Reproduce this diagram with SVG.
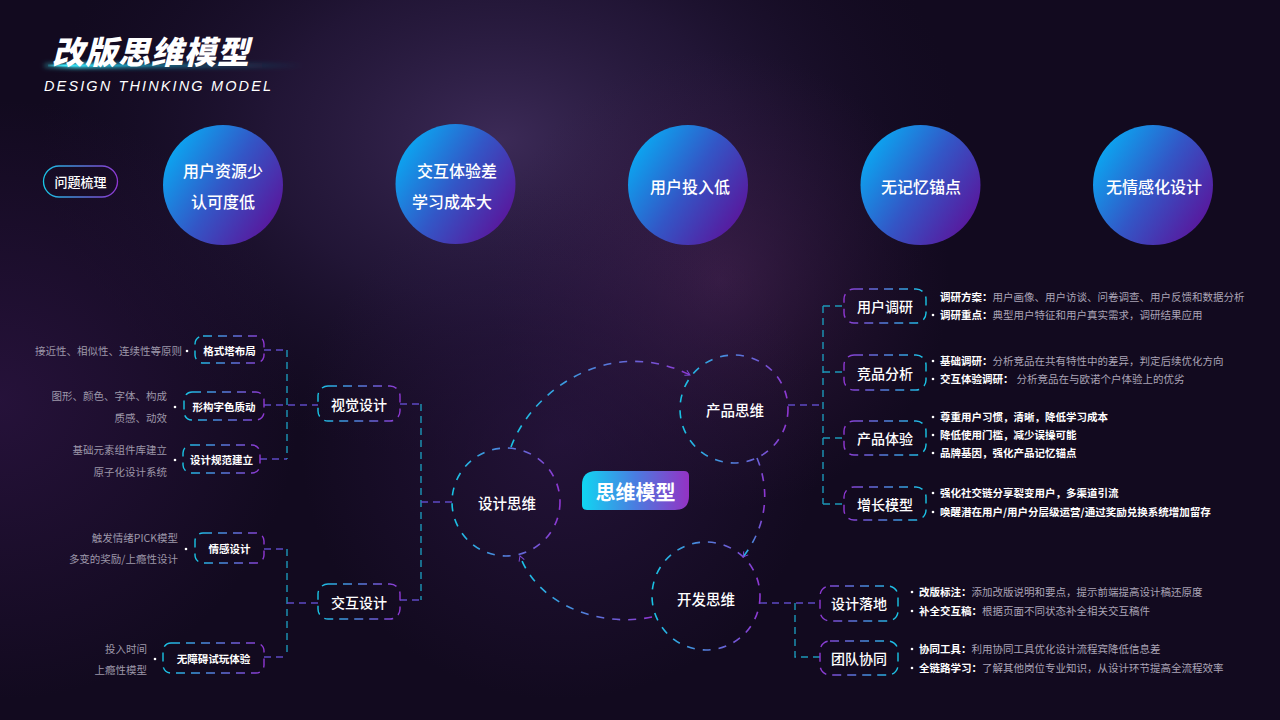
<svg xmlns="http://www.w3.org/2000/svg" width="1280" height="720" viewBox="0 0 1280 720">
<defs>
<radialGradient id="bg1" cx="500" cy="140" r="460" gradientUnits="userSpaceOnUse" gradientTransform="translate(500 140) scale(1 0.7) translate(-500 -140)">
<stop offset="0" stop-color="#3e2c5a" stop-opacity="0.95"/>
<stop offset="0.5" stop-color="#2c1d45" stop-opacity="0.6"/>
<stop offset="1" stop-color="#1a0f2c" stop-opacity="0"/>
</radialGradient>
<radialGradient id="bg2" cx="720" cy="280" r="230" gradientUnits="userSpaceOnUse">
<stop offset="0" stop-color="#4d2658" stop-opacity="0.55"/>
<stop offset="1" stop-color="#3a1a48" stop-opacity="0"/>
</radialGradient>
<radialGradient id="bg3" cx="0" cy="400" r="300" gradientUnits="userSpaceOnUse">
<stop offset="0" stop-color="#2e1545" stop-opacity="0.7"/>
<stop offset="1" stop-color="#2e1545" stop-opacity="0"/>
</radialGradient>
<radialGradient id="bg4" cx="560" cy="440" r="260" gradientUnits="userSpaceOnUse">
<stop offset="0" stop-color="#2e1848" stop-opacity="0.6"/>
<stop offset="1" stop-color="#2e1848" stop-opacity="0"/>
</radialGradient>
<linearGradient id="gCirc" x1="0.05" y1="0.2" x2="0.95" y2="0.8">
<stop offset="0" stop-color="#0aa8f2"/>
<stop offset="0.5" stop-color="#3356c6"/>
<stop offset="1" stop-color="#5a169c"/>
</linearGradient>
<linearGradient id="gS" x1="0" y1="0" x2="1" y2="0">
<stop offset="0" stop-color="#18c4e4"/>
<stop offset="1" stop-color="#8e36d2"/>
</linearGradient>
<linearGradient id="gSR" x1="0" y1="0" x2="1" y2="0">
<stop offset="0" stop-color="#8e36d2"/>
<stop offset="1" stop-color="#18c4e4"/>
</linearGradient>
<linearGradient id="gPill" x1="0" y1="0" x2="1" y2="0">
<stop offset="0" stop-color="#10d6f2"/>
<stop offset="0.5" stop-color="#4a7ce0"/>
<stop offset="1" stop-color="#9432c4"/>
</linearGradient>
<linearGradient id="gGlow" x1="0" y1="0" x2="1" y2="0">
<stop offset="0" stop-color="#3ff0ff" stop-opacity="0.2"/>
<stop offset="0.12" stop-color="#3ff0ff" stop-opacity="1"/>
<stop offset="0.4" stop-color="#22b8d8" stop-opacity="0.6"/>
<stop offset="1" stop-color="#1a8aa8" stop-opacity="0"/>
</linearGradient>
<filter id="blur" x="-20%" y="-300%" width="140%" height="700%"><feGaussianBlur stdDeviation="2.2"/></filter>
<filter id="sh" x="-30%" y="-30%" width="160%" height="160%"><feGaussianBlur stdDeviation="4"/></filter>
<marker id="chev" viewBox="0 0 10 10" refX="8" refY="5" markerWidth="7" markerHeight="7" orient="auto" markerUnits="userSpaceOnUse">
<path d="M1,1 L8,5 L1,9" fill="none" stroke="#7e4ad8" stroke-width="1.4"/>
</marker>
<style>
.t{font-family:"Noto Sans CJK SC","Noto Sans",sans-serif;fill:#fff}
.c{text-anchor:middle;dominant-baseline:central}
.big{font-size:16px;font-weight:500}
.nd{font-size:14px;font-weight:500}
.sm{font-size:10.5px;font-weight:700}
.gy{font-family:"Noto Sans CJK SC","Noto Sans",sans-serif;font-size:10.5px;fill:#9d97a9;text-anchor:end}
.rt{font-family:"Noto Sans CJK SC","Noto Sans",sans-serif;font-size:10.5px;fill:#aaa4b6}
.lb{font-weight:700;fill:#fff}
.box{fill:none;stroke:url(#gS);stroke-width:1.4;stroke-dasharray:9 6}
.boxr{fill:none;stroke:url(#gSR);stroke-width:1.4;stroke-dasharray:9 6}
.ring{fill:none;stroke:url(#gS);stroke-width:1.6;stroke-dasharray:8 8}
.cv{fill:none;stroke:#1c98b8;stroke-width:1.4;stroke-dasharray:7 5}
.ch{fill:none;stroke:#5d4ac4;stroke-width:1.4;stroke-dasharray:7 5}
.arc{fill:none;stroke:url(#gS);stroke-width:1.6;stroke-dasharray:8 8}
.dot{fill:#fff}
.circ{fill:url(#gCirc)}
</style>
</defs>

<g id="background">
<rect width="1280" height="720" fill="#120a1f"/>
<rect width="1280" height="720" fill="url(#bg1)"/>
<rect width="1280" height="720" fill="url(#bg2)"/>
<rect width="1280" height="720" fill="url(#bg3)"/>
<rect width="1280" height="720" fill="url(#bg4)"/>
</g>

<g id="title">
<rect x="44" y="63" width="260" height="5" fill="url(#gGlow)" filter="url(#blur)"/>
<rect x="48" y="64.5" width="150" height="2" fill="url(#gGlow)"/>
<text class="t" x="52" y="64" font-size="32" font-weight="900" transform="skewX(-14) translate(16 0)" letter-spacing="1">改版思维模型</text>
<text x="44" y="91" font-family="Liberation Sans, Arial, sans-serif" font-size="14.5" font-style="italic" fill="#fff" textLength="227" lengthAdjust="spacing">DESIGN THINKING MODEL</text>
</g>

<g id="n-issues">
<rect x="43.5" y="166" width="74" height="31" rx="15.5" fill="none" stroke="url(#gS)" stroke-width="1.3"/>
<text class="t c" x="80.5" y="181.5" font-size="13" font-weight="500">问题梳理</text>
</g>

<g id="n-p1">
<circle cx="223" cy="185" r="60" class="circ"/>
<text class="t c big" x="223" y="170">用户资源少</text>
<text class="t c big" x="223" y="201">认可度低</text>
</g>
<g id="n-p2">
<circle cx="455.5" cy="184" r="60" class="circ"/>
<text class="t c big" x="457" y="170">交互体验差</text>
<text class="t c big" x="452" y="201">学习成本大</text>
</g>
<g id="n-p3">
<circle cx="688" cy="185" r="60" class="circ"/>
<text class="t c big" x="690" y="186">用户投入低</text>
</g>
<g id="n-p4">
<circle cx="920.5" cy="185" r="60" class="circ"/>
<text class="t c big" x="921" y="186">无记忆锚点</text>
</g>
<g id="n-p5">
<circle cx="1153" cy="185" r="60" class="circ"/>
<text class="t c big" x="1154" y="186">无情感化设计</text>
</g>

<g id="connectors">
<path class="ch" d="M264,350 H287"/>
<path class="ch" d="M264,405 H318"/>
<path class="ch" d="M260,459 H287"/>
<path class="cv" d="M287,350 V459"/>
<path class="ch" d="M400,404 H421"/>
<path class="cv" d="M421,404 V600"/>
<path class="ch" d="M400,600 H421"/>
<path class="ch" d="M421,502 H452"/>
<path class="ch" d="M264,549 H287"/>
<path class="ch" d="M264,657 H287"/>
<path class="cv" d="M287,549 V657"/>
<path class="ch" d="M287,603 H318"/>
<path class="ch" d="M788,405 H823"/>
<path class="cv" d="M823,306 V504"/>
<path class="cv" d="M823,306 H844"/>
<path class="cv" d="M823,372 H844"/>
<path class="cv" d="M823,438 H844"/>
<path class="cv" d="M823,504 H844"/>
<path class="ch" d="M760,603 H820"/>
<path class="cv" d="M795,603 V657 H820"/>
<path class="arc" d="M511,447 C532,390 610,335 690,375" marker-end="url(#chev)"/>
<path class="arc" d="M757,458 C772,495 764,530 743,557" marker-end="url(#chev)"/>
<path class="arc" d="M652,617 C600,628 538,605 520,556" marker-end="url(#chev)"/>
</g>

<g id="n-gestalt">
<rect class="box" x="195" y="336" width="69" height="27" rx="8"/>
<text class="t c sm" x="229.5" y="350">格式塔布局</text>
<circle class="dot" cx="187" cy="351" r="1.3"/>
<text class="gy" x="182" y="355">接近性、相似性、连续性等原则</text>
</g>
<g id="n-form">
<rect class="box" x="184" y="392" width="80" height="28" rx="8"/>
<text class="t c sm" x="224" y="406">形构字色质动</text>
<circle class="dot" cx="175" cy="407" r="1.3"/>
<text class="gy" x="167" y="400">图形、颜色、字体、构成</text>
<text class="gy" x="167" y="422">质感、动效</text>
</g>
<g id="n-spec">
<rect class="box" x="183" y="445" width="77" height="28" rx="8"/>
<text class="t c sm" x="221.5" y="459">设计规范建立</text>
<circle class="dot" cx="175" cy="460" r="1.3"/>
<text class="gy" x="167" y="454">基础元素组件库建立</text>
<text class="gy" x="167" y="476">原子化设计系统</text>
</g>
<g id="n-visual">
<rect class="box" x="318" y="386" width="82" height="35" rx="10"/>
<text class="t c nd" x="359" y="404">视觉设计</text>
</g>
<g id="n-emotion">
<rect class="box" x="195" y="533" width="69" height="30" rx="8"/>
<text class="t c sm" x="229.5" y="548">情感设计</text>
<circle class="dot" cx="186" cy="549" r="1.3"/>
<text class="gy" x="178" y="542">触发情绪PICK模型</text>
<text class="gy" x="178" y="563">多变的奖励/上瘾性设计</text>
</g>
<g id="n-barrier">
<rect class="box" x="163" y="643" width="101" height="30" rx="8"/>
<text class="t c sm" x="213.5" y="658">无障碍试玩体验</text>
<circle class="dot" cx="155" cy="659" r="1.3"/>
<text class="gy" x="147" y="653">投入时间</text>
<text class="gy" x="147" y="674">上瘾性模型</text>
</g>
<g id="n-interact">
<rect class="box" x="318" y="584" width="82" height="35" rx="10"/>
<text class="t c nd" x="359" y="602">交互设计</text>
</g>

<g id="n-design">
<circle class="ring" cx="506" cy="502" r="54"/>
<text class="t c" x="507" y="502" font-size="14.5" font-weight="500">设计思维</text>
</g>
<g id="n-product">
<circle class="ring" cx="734" cy="409" r="54"/>
<text class="t c" x="735" y="409" font-size="14.5" font-weight="500">产品思维</text>
</g>
<g id="n-dev">
<circle class="ring" cx="706" cy="596" r="54"/>
<text class="t c" x="706" y="598" font-size="14.5" font-weight="500">开发思维</text>
</g>
<g id="n-core">
<path d="M596,471 H684 Q689,471 689,476 V496 Q689,510 675,510 H587 Q582,510 582,505 V485 Q582,471 596,471 Z" fill="url(#gPill)"/>
<text class="t c" x="635.5" y="491" font-size="20" font-weight="700">思维模型</text>
</g>

<g id="n-research">
<rect class="boxr" x="844" y="289" width="82" height="34" rx="10"/>
<text class="t c nd" x="885" y="306">用户调研</text>
<text class="rt" x="940" y="301"><tspan class="lb">调研方案：</tspan>用户画像、用户访谈、问卷调查、用户反馈和数据分析</text>
<circle class="dot" cx="933" cy="315" r="1.3"/>
<text class="rt" x="940" y="319"><tspan class="lb">调研重点：</tspan>典型用户特征和用户真实需求，调研结果应用</text>
</g>
<g id="n-compete">
<rect class="boxr" x="844" y="355" width="82" height="35" rx="10"/>
<text class="t c nd" x="885" y="373">竞品分析</text>
<circle class="dot" cx="933" cy="361" r="1.3"/>
<text class="rt" x="940" y="365"><tspan class="lb">基础调研：</tspan>分析竞品在共有特性中的差异，判定后续优化方向</text>
<circle class="dot" cx="933" cy="379" r="1.3"/>
<text class="rt" x="940" y="383"><tspan class="lb">交互体验调研：</tspan><tspan dx="3">分析竞品在与欧诺个户体验上的优劣</tspan></text>
</g>
<g id="n-exp">
<rect class="boxr" x="844" y="421" width="82" height="34" rx="10"/>
<text class="t c nd" x="885" y="438">产品体验</text>
<circle class="dot" cx="933" cy="417" r="1.3"/>
<text class="rt lb" x="940" y="421">尊重用户习惯，清晰，降低学习成本</text>
<circle class="dot" cx="933" cy="435" r="1.3"/>
<text class="rt lb" x="940" y="439">降低使用门槛，减少误操可能</text>
<circle class="dot" cx="933" cy="453" r="1.3"/>
<text class="rt lb" x="940" y="457">品牌基因，强化产品记忆锚点</text>
</g>
<g id="n-growth">
<rect class="boxr" x="844" y="487" width="82" height="33" rx="10"/>
<text class="t c nd" x="885" y="504">增长模型</text>
<circle class="dot" cx="933" cy="493" r="1.3"/>
<text class="rt lb" x="940" y="497">强化社交链分享裂变用户，多渠道引流</text>
<circle class="dot" cx="933" cy="512" r="1.3"/>
<text class="rt lb" x="940" y="516">唤醒潜在用户/用户分层级运营/通过奖励兑换系统增加留存</text>
</g>
<g id="n-land">
<rect class="boxr" x="820" y="586" width="78" height="35" rx="10"/>
<text class="t c nd" x="859" y="603">设计落地</text>
<circle class="dot" cx="912" cy="592" r="1.3"/>
<text class="rt" x="919" y="596"><tspan class="lb">改版标注：</tspan>添加改版说明和要点，提示前端提高设计稿还原度</text>
<circle class="dot" cx="912" cy="611" r="1.3"/>
<text class="rt" x="919" y="615"><tspan class="lb">补全交互稿：</tspan>根据页面不同状态补全相关交互稿件</text>
</g>
<g id="n-team">
<rect class="boxr" x="820" y="641" width="78" height="34" rx="10"/>
<text class="t c nd" x="859" y="658">团队协同</text>
<circle class="dot" cx="912" cy="649" r="1.3"/>
<text class="rt" x="919" y="653"><tspan class="lb">协同工具：</tspan>利用协同工具优化设计流程宾降低信息差</text>
<circle class="dot" cx="912" cy="668" r="1.3"/>
<text class="rt" x="919" y="672"><tspan class="lb">全链路学习：</tspan>了解其他岗位专业知识，从设计环节提高全流程效率</text>
</g>
</svg>
